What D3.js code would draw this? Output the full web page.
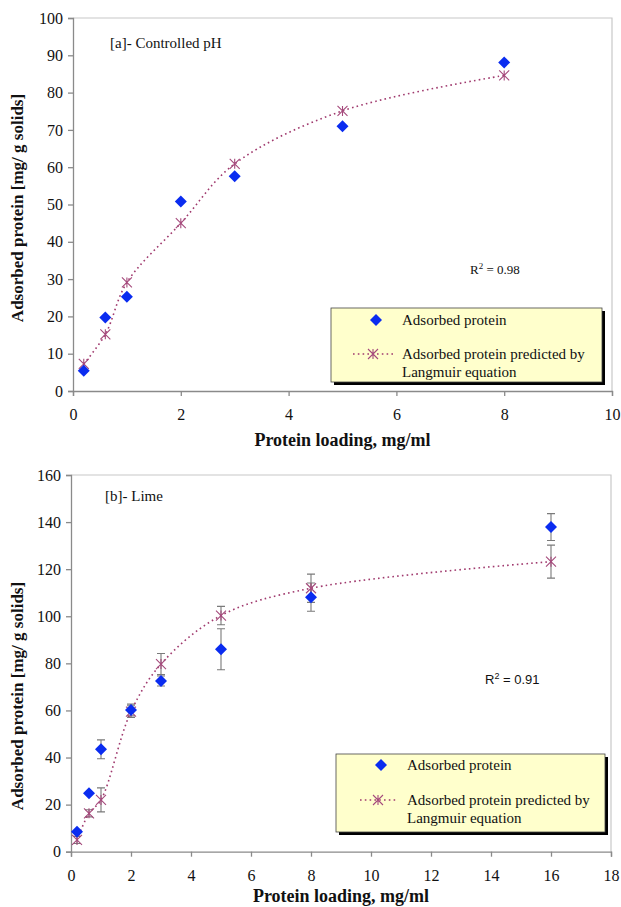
<!DOCTYPE html>
<html><head><meta charset="utf-8">
<script src="https://cdn.jsdelivr.net/npm/d3@7"></script>
<style>
body{margin:0;background:#fff;}
</style></head>
<body><svg id="c" width="621" height="907" font-family="Liberation Serif, Times New Roman, serif"></svg>
<script>
// ---- data ----
const loadA = [0.2, 0.6, 1, 2, 3, 5, 8];
const measA = [5.4, 19.7, 25.3, 50.8, 57.6, 71.0, 88.1];
const predA = [7.3, 15.2, 29.1, 45.0, 60.9, 75.1, 84.6];

const loadB = [0.2, 0.6, 1, 2, 3, 5, 8, 16];
const measB = [8.5, 24.8, 43.5, 60.2, 72.5, 86.0, 108.1, 137.9];
const measErrB = [0, 0, 4.0, 2.5, 2.1, 8.7, 6.0, 5.7];
const predB = [5.0, 16.3, 22.0, 59.5, 79.7, 100.3, 111.9, 123.2];
const predErrB = [1.5, 1.5, 5.1, 2.5, 4.5, 3.9, 6.0, 7.0];

const xTicksA = [0, 2, 4, 6, 8, 10];
const yTicksA = [0, 10, 20, 30, 40, 50, 60, 70, 80, 90, 100];
const xTicksB = [0, 2, 4, 6, 8, 10, 12, 14, 16, 18];
const yTicksB = [0, 20, 40, 60, 80, 100, 120, 140, 160];

const legendLabels = ["Adsorbed protein", "Adsorbed protein predicted by", "Langmuir equation"];

const SERIF = "Liberation Serif, Times New Roman, serif";
const SANS = "Liberation Sans, Arial, sans-serif";
const svg = d3.select("#c");
const BLUE = "#0a2cf0", MAUVE = "#a54a7c", LINEC = "#a03a6e";

function star(g, x, y, r) {
  const p = d3.path();
  p.moveTo(x - r, y - r); p.lineTo(x + r, y + r);
  p.moveTo(x - r, y + r); p.lineTo(x + r, y - r);
  p.moveTo(x, y - r); p.lineTo(x, y + r);
  g.append("path").attr("d", p.toString()).attr("stroke", MAUVE).attr("stroke-width", 1.1).attr("fill", "none");
}
function diamond(g, x, y, r) {
  g.append("path").attr("d", `M${x},${y - r}L${x + r},${y}L${x},${y + r}L${x - r},${y}Z`).attr("fill", BLUE);
}

function panel(o) {
  const g = svg.append("g");
  const x = d3.scaleLinear().domain(o.xd).range([o.l, o.r]);
  const y = d3.scaleLinear().domain(o.yd).range([o.b, o.t]);

  // frame (top/right)
  g.append("path").attr("d", `M${o.l},${o.t}H${o.r}V${o.b}`).attr("fill", "none").attr("stroke", "#c8c8c8").attr("stroke-width", 1.2);

  const xa = g.append("g").attr("transform", `translate(0,${o.b})`)
    .call(d3.axisBottom(x).tickValues(o.xt).tickSize(5).tickPadding(13).tickFormat(d3.format("d")));
  const ya = g.append("g").attr("transform", `translate(${o.l},0)`)
    .call(d3.axisLeft(y).tickValues(o.yt).tickSize(5).tickPadding(5).tickFormat(d3.format("d")));
  [xa, ya].forEach(a => {
    a.attr("font-family", SERIF).attr("font-size", 16);
    a.selectAll("path,line").attr("stroke", "#8a8a8a").attr("stroke-width", 1.3);
    a.selectAll("text").attr("fill", "#111");
  });

  // error bars
  const eb = (xs, ys, es) => xs.forEach((xv, i) => {
    if (!es[i]) return;
    const cx = x(xv), y1 = y(ys[i] - es[i]), y2 = y(ys[i] + es[i]);
    g.append("path").attr("d", `M${cx},${y1}V${y2}M${cx - 4},${y1}H${cx + 4}M${cx - 4},${y2}H${cx + 4}`)
      .attr("stroke", "#7a7a7a").attr("stroke-width", 1.1).attr("fill", "none");
  });
  if (o.predErr) eb(o.xs, o.pred, o.predErr);
  if (o.measErr) eb(o.xs, o.meas, o.measErr);

  // predicted line
  const line = d3.line().x((d, i) => x(o.xs[i])).y(d => y(d)).curve(d3.curveCatmullRom.alpha(0.5));
  g.append("path").attr("d", line(o.pred)).attr("fill", "none").attr("stroke", LINEC)
    .attr("stroke-width", 1.6).attr("stroke-dasharray", "1.6,3.2");
  o.pred.forEach((d, i) => star(g, x(o.xs[i]), y(d), 5));
  o.meas.forEach((d, i) => diamond(g, x(o.xs[i]), y(d), 6));

  // labels
  g.append("text").attr("x", o.tagX).attr("y", o.tagY).attr("font-size", 15).attr("fill", "#111").text(o.tag);
  const r2 = g.append("text").attr("x", o.r2x).attr("y", o.r2y).attr("font-size", 13).attr("fill", "#111")
    .attr("font-family", o.r2sans ? SANS : SERIF);
  r2.append("tspan").text("R");
  r2.append("tspan").attr("dy", -5).attr("font-size", 9).text("2");
  r2.append("tspan").attr("dy", 5).text(" = " + o.r2);

  g.append("text").attr("x", (o.l + o.r) / 2).attr("y", o.xlY).attr("text-anchor", "middle").attr("fill", "#111")
    .attr("font-weight", "bold").attr("font-size", 18).text("Protein loading, mg/ml");
  g.append("text").attr("transform", `translate(23,${o.ylC}) rotate(-90)`).attr("text-anchor", "middle").attr("fill", "#111")
    .attr("font-weight", "bold").attr("font-size", 17).text("Adsorbed protein [mg/ g solids]");

  // legend
  const L = o.leg;
  g.append("rect").attr("x", L.x + 3).attr("y", L.y + 3).attr("width", L.w).attr("height", L.h).attr("fill", "#000");
  g.append("rect").attr("x", L.x).attr("y", L.y).attr("width", L.w).attr("height", L.h).attr("fill", "#ffffcc")
    .attr("stroke", "#444").attr("stroke-width", 0.8);
  diamond(g, L.x + L.dx, L.y + L.d1, 6);
  g.append("path").attr("d", `M${L.x + L.lx1},${L.y + L.d2}H${L.x + L.lx2}`).attr("stroke", LINEC)
    .attr("stroke-width", 1.4).attr("stroke-dasharray", "1.6,3.2");
  star(g, L.x + L.dx - 3, L.y + L.d2, 5);
  g.append("text").attr("x", L.x + L.tx).attr("y", L.y + L.d1 + 5).attr("font-size", 15).attr("fill", "#111").text(legendLabels[0]);
  g.append("text").attr("x", L.x + L.tx).attr("y", L.y + L.d2 + 5).attr("font-size", 15).attr("fill", "#111").text(legendLabels[1]);
  g.append("text").attr("x", L.x + L.tx).attr("y", L.y + L.d2 + 23).attr("font-size", 15).attr("fill", "#111").text(legendLabels[2]);
}

panel({
  l: 73, r: 612, t: 18, b: 391, xd: [0, 10], yd: [0, 100], xt: xTicksA, yt: yTicksA,
  xs: loadA, meas: measA, pred: predA,
  tag: "[a]- Controlled pH", tagX: 110, tagY: 48,
  r2: "0.98", r2x: 470, r2y: 274, r2sans: false,
  xlY: 446, ylC: 208,
  leg: { x: 331, y: 308, w: 271, h: 74, dx: 45, d1: 12, d2: 46, lx1: 22, lx2: 62, tx: 71 }
});
panel({
  l: 71, r: 611, t: 475, b: 851.7, xd: [0, 18], yd: [0, 160], xt: xTicksB, yt: yTicksB,
  xs: loadB, meas: measB, pred: predB, measErr: measErrB, predErr: predErrB,
  tag: "[b]- Lime", tagX: 105, tagY: 501,
  r2: "0.91", r2x: 485, r2y: 684, r2sans: true,
  xlY: 902, ylC: 696,
  leg: { x: 336, y: 754, w: 269, h: 78, dx: 45, d1: 11, d2: 46, lx1: 24, lx2: 62, tx: 71 }
});
</script></body></html>
